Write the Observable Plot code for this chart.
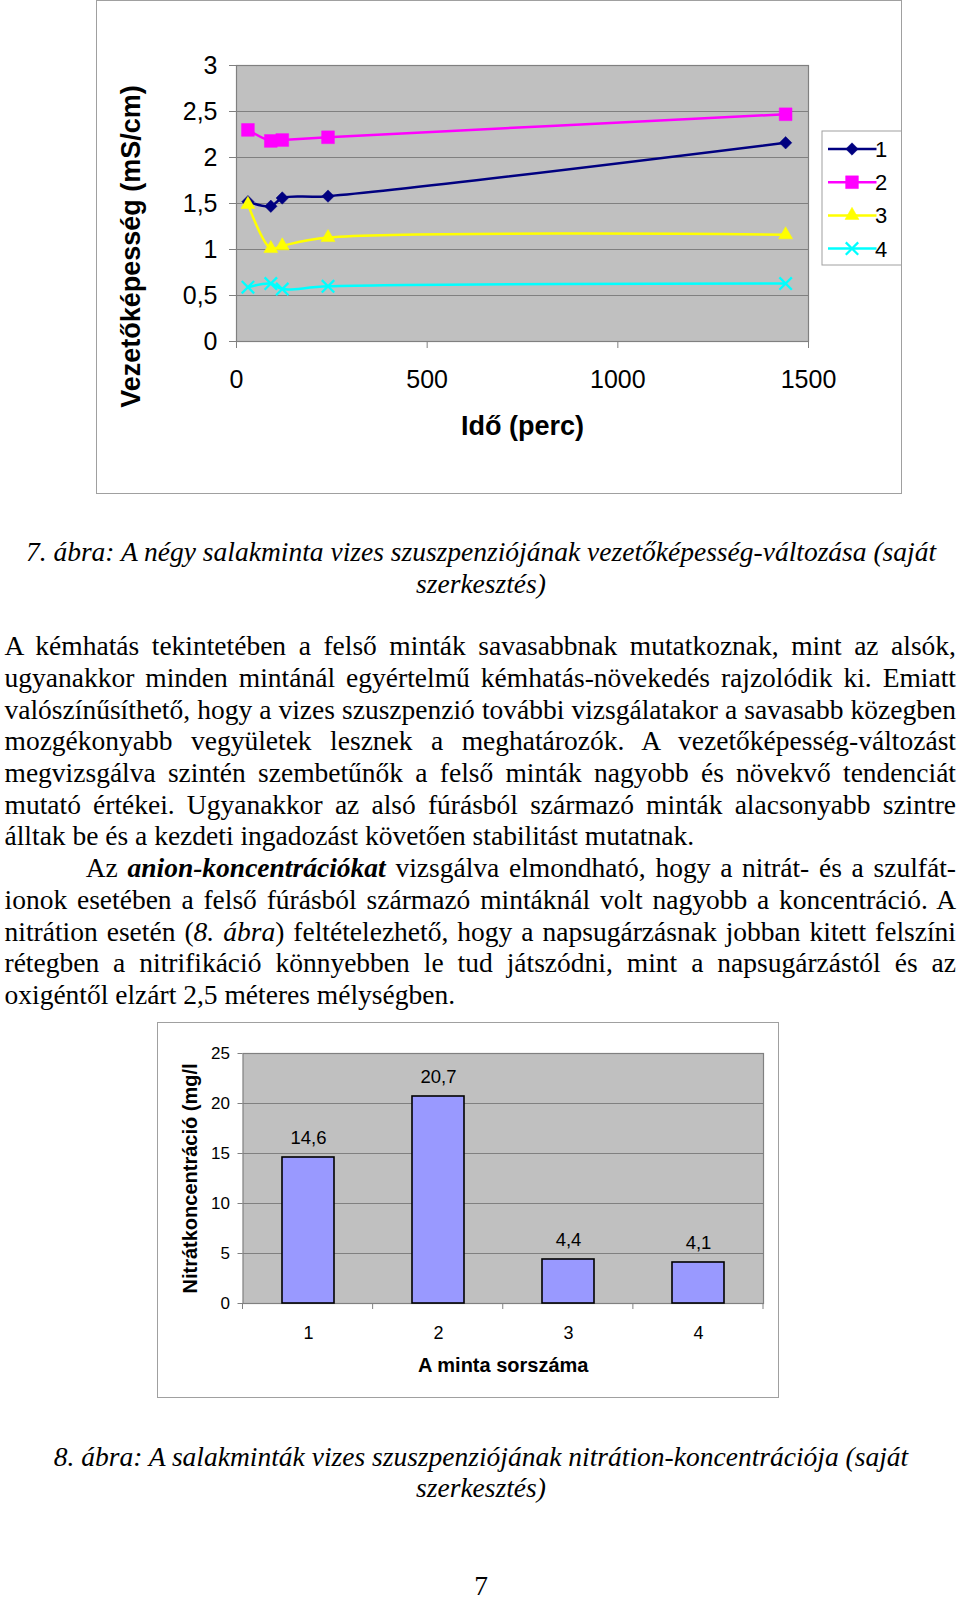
<!DOCTYPE html>
<html>
<head>
<meta charset="utf-8">
<script src="https://cdn.jsdelivr.net/npm/d3@7"></script>
<script src="https://cdn.jsdelivr.net/npm/@observablehq/plot@0.6"></script>
<style>
html, body { margin: 0; padding: 0; background: #fff; }
body { width: 960px; height: 1599px; position: relative; overflow: hidden; font-family: "Liberation Serif", "Times New Roman", serif; color: #000; }
.ln { position: absolute; white-space: nowrap; font-size: 27.5px; line-height: 30px; }
.cap { position: absolute; left: 0; width: 962px; text-align: center; white-space: nowrap; font-size: 27.5px; line-height: 30px; font-style: italic; }
.chart { position: absolute; }
.chart svg { outline: 1px solid #a0a0a0; outline-offset: -1px; }
</style>
</head>
<body>
<div id="c1" class="chart" style="left:96px; top:0px; width:806px; height:494px;"></div>

<div class="cap" style="top:537px;">7. ábra: A négy salakminta vizes szuszpenziójának vezetőképesség-változása (saját</div>
<div class="cap" style="top:568.5px;">szerkesztés)</div>

<div class="ln j" data-w="951.5" style="left:4.5px; top:631.2px;">A kémhatás tekintetében a felső minták savasabbnak mutatkoznak, mint az alsók,</div>
<div class="ln j" data-w="951.5" style="left:4.5px; top:662.9px;">ugyanakkor minden mintánál egyértelmű kémhatás-növekedés rajzolódik ki. Emiatt</div>
<div class="ln j" data-w="951.5" style="left:4.5px; top:694.6px;">valószínűsíthető, hogy a vizes szuszpenzió további vizsgálatakor a savasabb közegben</div>
<div class="ln j" data-w="951.5" style="left:4.5px; top:726.3px;">mozgékonyabb vegyületek lesznek a meghatározók. A vezetőképesség-változást</div>
<div class="ln j" data-w="951.5" style="left:4.5px; top:758.0px;">megvizsgálva szintén szembetűnők a felső minták nagyobb és növekvő tendenciát</div>
<div class="ln j" data-w="951.5" style="left:4.5px; top:789.7px;">mutató értékei. Ugyanakkor az alsó fúrásból származó minták alacsonyabb szintre</div>
<div class="ln" style="left:4.5px; top:821.4px;">álltak be és a kezdeti ingadozást követően stabilitást mutatnak.</div>
<div class="ln j" data-w="870.3" style="left:85.7px; top:853.1px;">Az <b><i>anion-koncentrációkat</i></b> vizsgálva elmondható, hogy a nitrát- és a szulfát-</div>
<div class="ln j" data-w="951.5" style="left:4.5px; top:884.8px;">ionok esetében a felső fúrásból származó mintáknál volt nagyobb a koncentráció. A</div>
<div class="ln j" data-w="951.5" style="left:4.5px; top:916.5px;">nitrátion esetén (<i>8. ábra</i>) feltételezhető, hogy a napsugárzásnak jobban kitett felszíni</div>
<div class="ln j" data-w="951.5" style="left:4.5px; top:948.2px;">rétegben a nitrifikáció könnyebben le tud játszódni, mint a napsugárzástól és az</div>
<div class="ln" style="left:4.5px; top:979.9px;">oxigéntől elzárt 2,5 méteres mélységben.</div>

<div id="c2" class="chart" style="left:157px; top:1022px; width:622px; height:376px;"></div>

<div class="cap" style="top:1442.3px;">8. ábra: A salakminták vizes szuszpenziójának nitrátion-koncentrációja (saját</div>
<div class="cap" style="top:1473.3px;">szerkesztés)</div>
<div class="cap" style="top:1571px; font-style:normal;">7</div>

<script>
// ---------- Chart 1 data ----------
const times = [30, 90, 120, 240, 1440];
const series1 = [1.52, 1.47, 1.56, 1.58, 2.16];
const series2 = [2.30, 2.18, 2.19, 2.22, 2.47];
const series3 = [1.49, 1.01, 1.04, 1.13, 1.16];
const series4 = [0.59, 0.63, 0.57, 0.60, 0.63];
const seriesNames = ["1", "2", "3", "4"];
const seriesColors = ["#000080", "#ff00ff", "#ffff00", "#00ffff"];
const seriesSymbols = ["diamond2", "square", "triangle", "times"];
const seriesR = [5.6, 7.2, 5.2, 5.7];
const xTicks1 = [0, 500, 1000, 1500];
const yTicks1 = [0, 0.5, 1, 1.5, 2, 2.5, 3];
const xTitle1 = "Idő (perc)";
const yTitle1 = "Vezetőképesség (mS/cm)";

// ---------- Chart 2 data ----------
const samples = ["1", "2", "3", "4"];
const nitrate = [14.6, 20.7, 4.4, 4.1];
const yTicks2 = [0, 5, 10, 15, 20, 25];
const xTitle2 = "A minta sorszáma";
const yTitle2 = "Nitrátkoncentráció (mg/l";

const fmt = d => String(d).replace(".", ",");
const sansFont = "'Liberation Sans', Arial, Helvetica, sans-serif";

const rows1 = [];
[series1, series2, series3, series4].forEach((vals, s) =>
  vals.forEach((v, i) => rows1.push({series: seriesNames[s], t: times[i], v})));

const chart1 = Plot.plot({
  width: 806, height: 494,
  marginLeft: 140, marginRight: 94, marginTop: 65, marginBottom: 153,
  style: {fontFamily: sansFont, background: "white", color: "black", overflow: "visible"},
  x: {domain: [0, 1500]},
  y: {domain: [0, 3]},
  marks: [
    Plot.frame({fill: "#c0c0c0"}),
    Plot.gridY({ticks: yTicks1.slice(1, -1), stroke: "#808080", strokeOpacity: 1, strokeWidth: 1}),
    Plot.frame({stroke: "#808080", strokeWidth: 1.2}),
    Plot.axisY({ticks: yTicks1, tickFormat: fmt, tickSize: 7, tickPadding: 12, fontSize: 25,
      stroke: "#808080", fill: "black", label: null}),
    Plot.axisX({ticks: xTicks1, tickFormat: d => String(d), tickSize: 7, tickPadding: 22, fontSize: 25,
      stroke: "#808080", fill: "black", label: null}),
    Plot.line(rows1, {x: "t", y: "v", z: "series", stroke: d => seriesColors[seriesNames.indexOf(d.series)],
      strokeWidth: 2.5, curve: "catmull-rom"}),
    ...seriesNames.map((name, s) => Plot.dot(rows1.filter(d => d.series === name), {
      x: "t", y: "v", symbol: seriesSymbols[s], r: seriesR[s],
      ...(seriesSymbols[s] === "times"
        ? {stroke: seriesColors[s], strokeWidth: 2.3}
        : {fill: seriesColors[s], stroke: seriesColors[s], strokeWidth: 0.5})
    })),
    Plot.text([yTitle1], {text: d => d, frameAnchor: "left", textAnchor: "middle", lineAnchor: "middle",
      dx: -105, dy: 43, rotate: -90, fontSize: 27, fontWeight: "bold"}),
    Plot.text([xTitle1], {text: d => d, frameAnchor: "bottom", textAnchor: "middle", lineAnchor: "middle",
      dy: 84.5, fontSize: 27, fontWeight: "bold"})
  ]
});
document.getElementById("c1").appendChild(chart1);

// legend for chart 1
{
  const svg = d3.select(chart1);
  const symTypes = {diamond2: d3.symbolDiamond2, square: d3.symbolSquare, triangle: d3.symbolTriangle, times: d3.symbolTimes};
  const lg = svg.append("g").attr("font-family", sansFont);
  lg.append("rect").attr("x", 726).attr("y", 131).attr("width", 79.5).attr("height", 134)
    .attr("fill", "white").attr("stroke", "#a0a0a0");
  seriesNames.forEach((name, i) => {
    const cy = 149 + i * 33.2;
    lg.append("line").attr("x1", 732).attr("x2", 780.5).attr("y1", cy).attr("y2", cy)
      .attr("stroke", seriesColors[i]).attr("stroke-width", 2.5);
    const p = lg.append("path")
      .attr("d", d3.symbol(symTypes[seriesSymbols[i]], seriesR[i] * seriesR[i] * Math.PI)())
      .attr("transform", `translate(756,${cy})`);
    if (seriesSymbols[i] === "times") p.attr("fill", "none").attr("stroke", seriesColors[i]).attr("stroke-width", 2.3);
    else p.attr("fill", seriesColors[i]).attr("stroke", seriesColors[i]).attr("stroke-width", 0.5);
    lg.append("text").attr("x", 785).attr("y", cy).attr("dy", "0.36em").attr("font-size", 22).text(name);
  });
}

// ---------- Chart 2 ----------
const rows2 = samples.map((s, i) => ({sample: s, value: nitrate[i]}));
const chart2 = Plot.plot({
  width: 622, height: 376,
  marginLeft: 85.5, marginRight: 16, marginTop: 31, marginBottom: 95,
  style: {fontFamily: sansFont, background: "white", color: "black", overflow: "visible"},
  x: {domain: samples, paddingInner: 0.6, paddingOuter: 0.3},
  y: {domain: [0, 25]},
  marks: [
    Plot.frame({fill: "#c0c0c0"}),
    Plot.gridY({ticks: yTicks2.slice(1, -1), stroke: "#808080", strokeOpacity: 1, strokeWidth: 1}),
    Plot.frame({stroke: "#808080", strokeWidth: 1.2}),
    Plot.axisY({ticks: yTicks2, tickSize: 5, tickPadding: 8, fontSize: 17,
      stroke: "#808080", fill: "black", label: null}),
    Plot.axisX({tickSize: 0, tickPadding: 23, fontSize: 18, fill: "black", label: null}),
    Plot.barY(rows2, {x: "sample", y: "value", fill: "#9999ff", stroke: "black", strokeWidth: 1.6}),
    Plot.text(rows2, {x: "sample", y: "value", text: d => fmt(d.value), dy: -19, fontSize: 18.5,
      ariaLabel: "value-label"}),
    Plot.text([yTitle2], {text: d => d, frameAnchor: "left", textAnchor: "middle", lineAnchor: "middle",
      dx: -52.7, rotate: -90, fontSize: 20, fontWeight: "bold"}),
    Plot.text([xTitle2], {text: d => d, frameAnchor: "bottom", textAnchor: "middle", lineAnchor: "middle",
      dy: 62, fontSize: 20, fontWeight: "bold"})
  ]
});
document.getElementById("c2").appendChild(chart2);

{
  const svg = d3.select(chart2);
  // category boundary ticks
  const sx = chart2.scale("x");
  const sy = chart2.scale("y");
  const [r0, r1] = sx.range;
  const yb = sy.apply(0);
  const n = samples.length;
  for (let i = 0; i <= n; i++) {
    const xx = r0 + (r1 - r0) * i / n;
    svg.append("line").attr("x1", xx).attr("x2", xx).attr("y1", yb).attr("y2", yb + 6)
      .attr("stroke", "#808080");
  }
  // white boxes behind value labels
  svg.selectAll('g[aria-label="value-label"] text').each(function () {
    const b = this.getBBox();
    const r = document.createElementNS("http://www.w3.org/2000/svg", "rect");
    r.setAttribute("x", b.x - 2);
    r.setAttribute("y", b.y + 0.5);
    r.setAttribute("width", b.width + 4);
    r.setAttribute("height", b.height + 2);
    r.setAttribute("fill", "white");
    r.setAttribute("stroke", "none");
    if (this.getAttribute("transform")) r.setAttribute("transform", this.getAttribute("transform"));
    this.parentNode.insertBefore(r, this);
  });
}

// ---------- justify body lines ----------
function justify() {
  document.querySelectorAll(".j").forEach(el => {
    el.style.wordSpacing = "0px";
    const target = +el.dataset.w;
    const w = el.getBoundingClientRect().width;
    const nSp = (el.textContent.match(/ /g) || []).length;
    if (nSp > 0) el.style.wordSpacing = ((target - w) / nSp) + "px";
  });
}
justify();
if (document.fonts && document.fonts.ready) document.fonts.ready.then(justify);
</script>
</body>
</html>
